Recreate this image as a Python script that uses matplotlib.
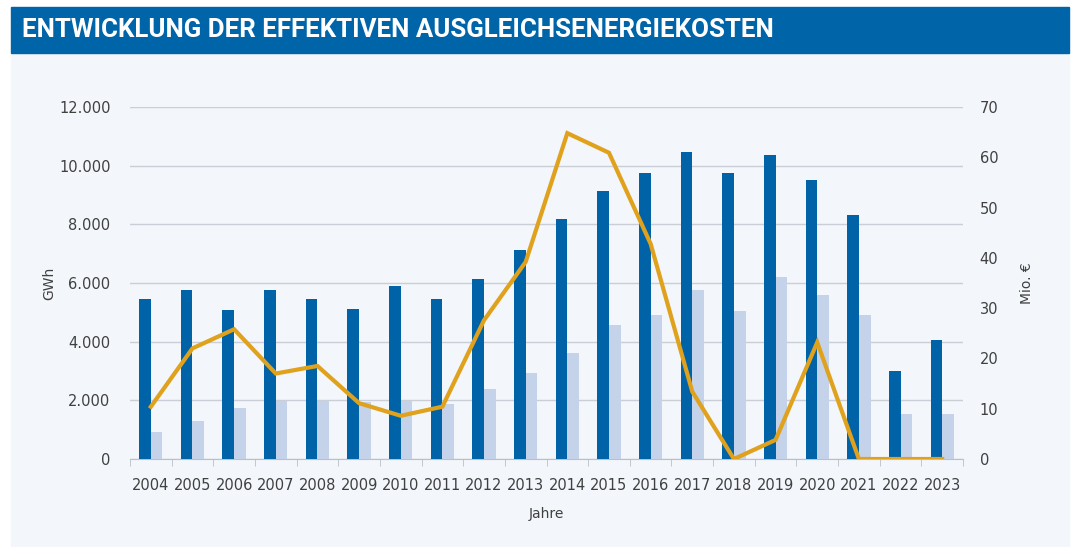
import numpy as np
import matplotlib.pyplot as plt
from matplotlib.patches import Rectangle

years = [str(y) for y in range(2004, 2024)]

# GWh, dark bars
gwh_dark = [5450, 5750, 5070, 5750, 5450, 5110, 5900, 5450, 6120, 7130,
            8170, 9140, 9750, 10470, 9750, 10350, 9510, 8320, 2990, 4040]
# GWh, light bars
gwh_light = [910, 1300, 1730, 1980, 1980, 1950, 1980, 1860, 2380, 2940,
             3610, 4560, 4910, 5750, 5030, 6200, 5590, 4910, 1530, 1530]
# Mio. EUR, line
cost = [10.4, 22.0, 25.8, 17.0, 18.5, 11.1, 8.6, 10.4, 27.6, 39.2,
        64.8, 60.9, 42.8, 13.4, 0.0, 3.8, 23.2, 0.0, 0.0, 0.0]

left_ticks = [0, 2000, 4000, 6000, 8000, 10000, 12000]
left_labels = ["0", "2.000", "4.000", "6.000", "8.000", "10.000", "12.000"]
right_ticks = [0, 10, 20, 30, 40, 50, 60, 70]

DARK = "#0063a8"
LIGHT = "#c4d3ea"
GOLD = "#e0a11c"
BG = "#f3f6fa"
TXT = "#404040"

W, H = 1077, 547
fig = plt.figure(figsize=(W / 100, H / 100), dpi=100)
fig.patch.set_facecolor("white")

# panel background and title banner
fig.patches.append(Rectangle((11 / W, 0), 1058 / W, 1 - 53 / H,
                             transform=fig.transFigure, color=BG, zorder=-10))
fig.patches.append(Rectangle((11 / W, 1 - 53 / H), 1058 / W, 46 / H,
                             transform=fig.transFigure, color="#0064a9", zorder=-10))
fig.text(22 / W, 1 - 30 / H, "ENTWICKLUNG DER EFFEKTIVEN AUSGLEICHSENERGIEKOSTEN",
         color="white", fontsize=18.6, fontweight="bold", va="center", ha="left",
         family=["Liberation Sans Narrow", "Roboto", "DejaVu Sans"])

ax = fig.add_axes([130 / W, 1 - 459 / H, 833 / W, 352 / H])
ax.patch.set_alpha(0)
x = np.arange(len(years))
bw = 0.28
ax.bar(x - bw / 2, gwh_dark, bw, color=DARK, zorder=3)
ax.bar(x + bw / 2, gwh_light, bw, color=LIGHT, zorder=3)

ax.set_xlim(-0.5, len(years) - 0.5)
ax.set_ylim(0, 12000)
ax.set_yticks(left_ticks)
ax.set_yticklabels(left_labels)
ax.set_xticks(x)
ax.set_xticklabels(years)
ax.set_xticks(np.arange(-0.5, len(years), 1), minor=True)
ax.tick_params(axis="x", which="major", length=0, pad=14, labelsize=10.5, colors=TXT)
ax.tick_params(axis="x", which="minor", length=5, color="#b9c0cb", direction="out")
ax.tick_params(axis="y", length=0, pad=14, labelsize=10.5, colors=TXT)
ax.grid(axis="y", color="#c9ced7", linewidth=1, zorder=0)
for s in ["top", "right", "left"]:
    ax.spines[s].set_visible(False)
ax.spines["bottom"].set_color("#b9c0cb")
ax.set_ylabel("GWh", fontsize=10, color=TXT)
ax.yaxis.set_label_coords(-0.088, 0.5)
ax.set_xlabel("Jahre", fontsize=10, color=TXT, labelpad=10)

ax2 = ax.twinx()
ax2.plot(x, cost, color=GOLD, linewidth=3, zorder=4, solid_joinstyle="miter")
ax2.set_ylim(0, 70)
ax2.set_yticks(right_ticks)
ax2.tick_params(axis="y", length=0, pad=12, labelsize=10.5, colors=TXT)
for s in ["top", "right", "left", "bottom"]:
    ax2.spines[s].set_visible(False)
ax2.set_ylabel("Mio. €", fontsize=10, color=TXT)
ax2.yaxis.set_label_coords(1.068, 0.5)

fig.savefig("out.png", dpi=100, facecolor=fig.get_facecolor())
